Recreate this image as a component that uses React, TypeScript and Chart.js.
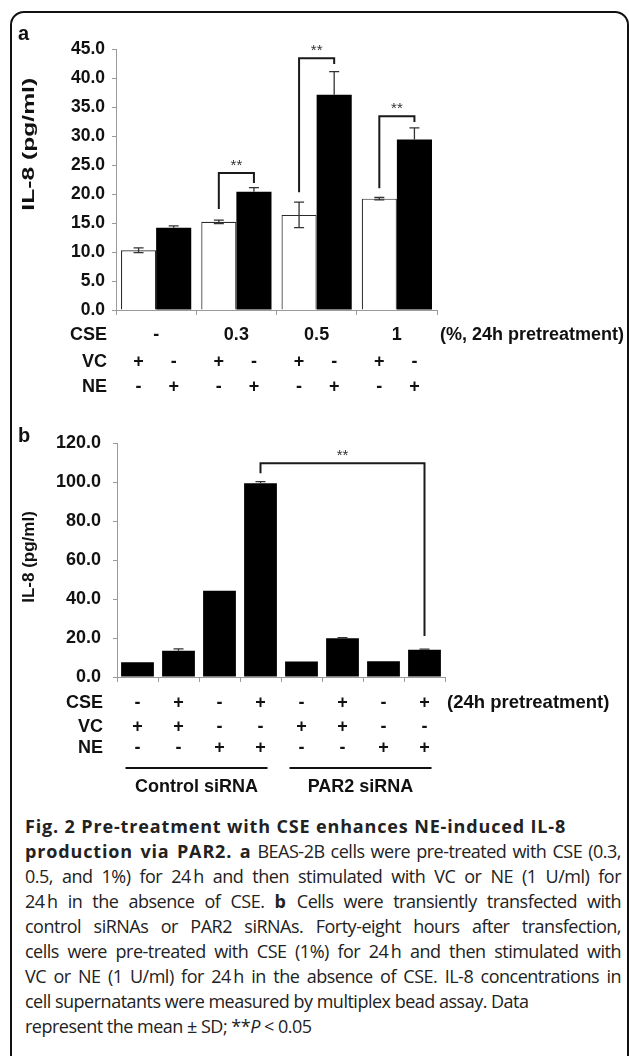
import React, { useEffect, useRef } from "react";
import { Chart, registerables } from "chart.js";
Chart.register(...registerables);

const FONT = "'Liberation Sans', Arial, Helvetica, sans-serif";

// ---------- Panel a data ----------
const cseLevelsA = ["-", "0.3", "0.5", "1"];
const cseSuffixA = "(%, 24h pretreatment)";
const vcRowA = ["+", "-", "+", "-", "+", "-", "+", "-"];
const neRowA = ["-", "+", "-", "+", "-", "+", "-", "+"];
const vcMeansA = [10.3, 15.2, 16.4, 19.2];
const vcSdA = [0.4, 0.3, 2.2, 0.2];
const neMeansA = [14.2, 20.4, 37.1, 29.4];
const neSdA = [0.3, 0.7, 4.0, 2.0];
const bracketCatA = [1, 2, 3];
const bracketTopA = [23.6, 43.4, 33.4];
const bracketLeftEndA = [17.4, 20.3, 21.0];
const bracketRightEndA = [21.9, 42.4, 32.4];

// ---------- Panel b data ----------
const categoriesB = ["1", "2", "3", "4", "5", "6", "7", "8"];
const cseRowB = ["-", "+", "-", "+", "-", "+", "-", "+"];
const cseSuffixB = "(24h pretreatment)";
const vcRowB = ["+", "+", "-", "-", "+", "+", "-", "-"];
const neRowB = ["-", "-", "+", "+", "-", "-", "+", "+"];
const meansB = [7.6, 13.5, 44.2, 99.4, 7.9, 19.9, 8.1, 14.0];
const sdB = [0, 0.9, 0, 0.8, 0, 0.3, 0, 0.3];
const groupNamesB = ["Control siRNA", "PAR2 siRNA"];
const groupRangesB = [[0, 3], [4, 7]];
const bracketB = [3, 7];
const bracketTopB = 109.6;
const bracketLeftEndB = 104.5;
const bracketRightEndB = 21.0;

const yTitle = "IL-8 (pg/ml)";
const sigMark = "**";

const captionLines: { t: string; b?: boolean; i?: boolean }[][] = [
  [{ t: "Fig. 2 Pre-treatment with CSE enhances NE-induced IL-8", b: true }],
  [{ t: "production via PAR2. a", b: true }, { t: " BEAS-2B cells were pre-treated with CSE (0.3," }],
  [{ t: "0.5, and 1%) for 24\u2009h and then stimulated with VC or NE (1 U/ml) for" }],
  [{ t: "24\u2009h in the absence of CSE. " }, { t: "b", b: true }, { t: " Cells were transiently transfected with" }],
  [{ t: "control siRNAs or PAR2 siRNAs. Forty-eight hours after transfection," }],
  [{ t: "cells were pre-treated with CSE (1%) for 24\u2009h and then stimulated with" }],
  [{ t: "VC or NE (1 U/ml) for 24\u2009h in the absence of CSE. IL-8 concentrations in" }],
  [{ t: "cell supernatants were measured by multiplex bead assay. Data" }],
  [{ t: "represent the mean \u00b1 SD; **" }, { t: "P", i: true }, { t: " < 0.05" }],
];
const justifiedLines = [false, true, true, true, true, true, true, false, false];

function drawErr(
  ctx: CanvasRenderingContext2D,
  x: number,
  yTop: number,
  yMid: number,
  yBot: number,
  cap: number,
  upperOnly: boolean
) {
  ctx.beginPath();
  ctx.moveTo(x, yTop);
  ctx.lineTo(x, upperOnly ? yMid : yBot);
  ctx.moveTo(x - cap / 2, yTop);
  ctx.lineTo(x + cap / 2, yTop);
  if (!upperOnly) {
    ctx.moveTo(x - cap / 2, yBot);
    ctx.lineTo(x + cap / 2, yBot);
  }
  ctx.stroke();
}

function drawTitle(ctx: CanvasRenderingContext2D, cx: number, cy: number, stretch: number) {
  ctx.save();
  ctx.translate(cx, cy);
  ctx.rotate(-Math.PI / 2);
  ctx.scale(stretch, 1);
  ctx.font = `bold 17px ${FONT}`;
  ctx.fillStyle = "#111";
  ctx.textAlign = "center";
  ctx.textBaseline = "middle";
  ctx.fillText(yTitle, 0, 0);
  ctx.restore();
}

const panelAPlugin = {
  id: "panelA",
  afterDatasetsDraw(chart: any) {
    const { ctx, scales } = chart;
    const y = scales.y;
    const m0 = chart.getDatasetMeta(0);
    const m1 = chart.getDatasetMeta(1);
    ctx.save();
    ctx.strokeStyle = "#333";
    ctx.lineWidth = 1.3;
    vcMeansA.forEach((v, i) =>
      drawErr(
        ctx,
        m0.data[i].x,
        y.getPixelForValue(v + vcSdA[i]),
        y.getPixelForValue(v),
        y.getPixelForValue(v - vcSdA[i]),
        10,
        false
      )
    );
    neMeansA.forEach((v, i) =>
      drawErr(
        ctx,
        m1.data[i].x,
        y.getPixelForValue(v + neSdA[i]),
        y.getPixelForValue(v),
        y.getPixelForValue(v - neSdA[i]),
        10,
        true
      )
    );
    ctx.strokeStyle = "#1a1a1a";
    ctx.lineWidth = 2;
    bracketCatA.forEach((c, k) => {
      const xl = m0.data[c].x;
      const xr = m1.data[c].x;
      const yt = y.getPixelForValue(bracketTopA[k]);
      ctx.beginPath();
      ctx.moveTo(xl, y.getPixelForValue(bracketLeftEndA[k]));
      ctx.lineTo(xl, yt);
      ctx.lineTo(xr, yt);
      ctx.lineTo(xr, y.getPixelForValue(bracketRightEndA[k]));
      ctx.stroke();
      ctx.fillStyle = "#333";
      ctx.font = `15px ${FONT}`;
      ctx.textAlign = "center";
      ctx.textBaseline = "alphabetic";
      ctx.fillText(sigMark, (xl + xr) / 2, yt - 3);
    });
    ctx.restore();
  },
  afterDraw(chart: any) {
    const { ctx, chartArea, scales } = chart;
    const x = scales.x;
    const m0 = chart.getDatasetMeta(0);
    const m1 = chart.getDatasetMeta(1);
    const b = chartArea.bottom;
    ctx.save();
    ctx.fillStyle = "#111";
    ctx.font = `bold 18px ${FONT}`;
    ctx.textBaseline = "middle";
    ctx.textAlign = "right";
    ctx.fillText("CSE", chartArea.left - 9, b + 25);
    ctx.fillText("VC", chartArea.left - 9, b + 52);
    ctx.fillText("NE", chartArea.left - 9, b + 77);
    ctx.textAlign = "center";
    cseLevelsA.forEach((t, i) => ctx.fillText(t, x.getPixelForValue(i), b + 25));
    cseLevelsA.forEach((_, i) => {
      ctx.fillText(vcRowA[2 * i], m0.data[i].x, b + 52);
      ctx.fillText(vcRowA[2 * i + 1], m1.data[i].x, b + 52);
      ctx.fillText(neRowA[2 * i], m0.data[i].x, b + 77);
      ctx.fillText(neRowA[2 * i + 1], m1.data[i].x, b + 77);
    });
    ctx.textAlign = "left";
    ctx.fillText(cseSuffixA, chartArea.right + 3, b + 25);
    ctx.font = `bold 20px ${FONT}`;
    ctx.textBaseline = "alphabetic";
    ctx.fillText("a", 18, 40);
    ctx.restore();
    drawTitle(ctx, 29, chartArea.top + 0.365 * (chartArea.bottom - chartArea.top), 1.45);
  },
};

const panelBPlugin = {
  id: "panelB",
  afterDatasetsDraw(chart: any) {
    const { ctx, scales } = chart;
    const y = scales.y;
    const m = chart.getDatasetMeta(0);
    ctx.save();
    ctx.strokeStyle = "#333";
    ctx.lineWidth = 1.3;
    meansB.forEach((v, i) => {
      if (sdB[i] > 0)
        drawErr(
          ctx,
          m.data[i].x,
          y.getPixelForValue(v + sdB[i]),
          y.getPixelForValue(v),
          y.getPixelForValue(v - sdB[i]),
          10,
          true
        );
    });
    ctx.strokeStyle = "#1a1a1a";
    ctx.lineWidth = 2;
    const xl = m.data[bracketB[0]].x;
    const xr = m.data[bracketB[1]].x;
    const yt = y.getPixelForValue(bracketTopB);
    ctx.beginPath();
    ctx.moveTo(xl, y.getPixelForValue(bracketLeftEndB));
    ctx.lineTo(xl, yt);
    ctx.lineTo(xr, yt);
    ctx.lineTo(xr, y.getPixelForValue(bracketRightEndB));
    ctx.stroke();
    ctx.fillStyle = "#333";
    ctx.font = `15px ${FONT}`;
    ctx.textAlign = "center";
    ctx.textBaseline = "alphabetic";
    ctx.fillText(sigMark, (xl + xr) / 2, yt - 3);
    ctx.restore();
  },
  afterDraw(chart: any) {
    const { ctx, chartArea } = chart;
    const m = chart.getDatasetMeta(0);
    const b = chartArea.bottom;
    ctx.save();
    ctx.fillStyle = "#111";
    ctx.font = `bold 18px ${FONT}`;
    ctx.textBaseline = "middle";
    ctx.textAlign = "right";
    ctx.fillText("CSE", chartArea.left - 14, b + 26);
    ctx.fillText("VC", chartArea.left - 14, b + 50);
    ctx.fillText("NE", chartArea.left - 14, b + 71);
    ctx.textAlign = "center";
    categoriesB.forEach((_, i) => {
      const px = m.data[i].x;
      ctx.fillText(cseRowB[i], px, b + 26);
      ctx.fillText(vcRowB[i], px, b + 50);
      ctx.fillText(neRowB[i], px, b + 71);
    });
    ctx.textAlign = "left";
    ctx.font = `bold 18.5px ${FONT}`;
    ctx.fillText(cseSuffixB, chartArea.right + 2, b + 26);
    ctx.font = `bold 18px ${FONT}`;
    ctx.strokeStyle = "#111";
    ctx.lineWidth = 2;
    groupRangesB.forEach(([s, e], k) => {
      const x1 = m.data[s].x - 12;
      const x2 = m.data[e].x + 7;
      ctx.beginPath();
      ctx.moveTo(x1, b + 91);
      ctx.lineTo(x2, b + 91);
      ctx.stroke();
      ctx.textAlign = "center";
      ctx.fillText(groupNamesB[k], (x1 + x2) / 2, b + 110);
    });
    ctx.font = `bold 20px ${FONT}`;
    ctx.textAlign = "left";
    ctx.textBaseline = "alphabetic";
    ctx.fillText("b", 18, 27);
    ctx.restore();
    drawTitle(ctx, 29, (chartArea.top + chartArea.bottom) / 2 - 3, 1.0);
  },
};

const axisGray = "#9a9a9a";

function yAxis(max: number, step: number, width: number, size: number, pad: number) {
  return {
    min: 0,
    max,
    ticks: {
      stepSize: step,
      callback: (v: any) => Number(v).toFixed(1),
      font: { family: FONT, size, weight: "bold" as const },
      color: "#111",
      padding: pad,
    },
    grid: { drawOnChartArea: false, drawTicks: true, tickLength: 4, color: axisGray },
    border: { color: axisGray, width: 1 },
    afterFit: (s: any) => {
      s.width = width;
    },
  };
}

function xAxis(height: number) {
  return {
    ticks: { display: false },
    grid: { drawOnChartArea: false, drawTicks: true, tickLength: 5, color: axisGray, offset: true },
    border: { color: axisGray, width: 1 },
    afterFit: (s: any) => {
      s.height = height;
    },
  };
}

export default function App() {
  const refA = useRef<HTMLCanvasElement>(null);
  const refB = useRef<HTMLCanvasElement>(null);

  useEffect(() => {
    const chartA = new Chart(refA.current as HTMLCanvasElement, {
      type: "bar",
      data: {
        labels: cseLevelsA,
        datasets: [
          {
            label: "VC",
            data: vcMeansA,
            backgroundColor: "#ffffff",
            borderColor: "#2a2a2a",
            borderWidth: 1.2,
            categoryPercentage: 0.875,
            barPercentage: 1.0,
          },
          {
            label: "NE",
            data: neMeansA,
            backgroundColor: "#000000",
            borderColor: "#000000",
            borderWidth: 0,
            categoryPercentage: 0.875,
            barPercentage: 1.0,
          },
        ],
      },
      options: {
        responsive: false,
        animation: false,
        devicePixelRatio: 1,
        layout: { padding: { left: 0, right: 192, top: 49, bottom: 0 } },
        plugins: { legend: { display: false }, tooltip: { enabled: false } },
        scales: { x: xAxis(105) as any, y: yAxis(45, 5, 116, 17.5, 7) as any },
      },
      plugins: [panelAPlugin],
    });

    const chartB = new Chart(refB.current as HTMLCanvasElement, {
      type: "bar",
      data: {
        labels: categoriesB,
        datasets: [
          {
            label: "IL-8",
            data: meansB,
            backgroundColor: "#000000",
            borderWidth: 0,
            categoryPercentage: 0.8,
            barPercentage: 1.0,
          },
        ],
      },
      options: {
        responsive: false,
        animation: false,
        devicePixelRatio: 1,
        layout: { padding: { left: 0, right: 184, top: 28, bottom: 0 } },
        plugins: { legend: { display: false }, tooltip: { enabled: false } },
        scales: { x: xAxis(133) as any, y: yAxis(120, 20, 117, 18, 12) as any },
      },
      plugins: [panelBPlugin],
    });

    return () => {
      chartA.destroy();
      chartB.destroy();
    };
  }, []);

  return (
    <div
      style={{
        position: "absolute",
        left: 0,
        top: 0,
        width: 629,
        height: 1056,
        background: "#fff",
        overflow: "hidden",
      }}
    >
      <div
        style={{
          position: "absolute",
          left: 10,
          top: 11,
          width: 619,
          height: 1070,
          boxSizing: "border-box",
          border: "2px solid #111",
          borderRadius: 14,
        }}
      />
      <canvas
        ref={refA}
        width={629}
        height={415}
        style={{ position: "absolute", left: 0, top: 0, width: 629, height: 415 }}
      />
      <canvas
        ref={refB}
        width={629}
        height={395}
        style={{ position: "absolute", left: 0, top: 415, width: 629, height: 395 }}
      />
      <div
        style={{
          position: "absolute",
          left: 25,
          top: 814,
          width: 596,
          fontFamily: "'Open Sans', 'Noto Sans', sans-serif",
          fontSize: 18,
          lineHeight: "25px",
          color: "#222",
        }}
      >
        {captionLines.map((line, i) => (
          <div
            key={i}
            style={{
              whiteSpace: "nowrap",
              textAlign: justifiedLines[i] ? "justify" : "left",
              textAlignLast: justifiedLines[i] ? "justify" : "left",
            }}
          >
            {line.map((seg, j) => (
              <span
                key={j}
                style={{
                  fontWeight: seg.b ? 700 : 400,
                  fontStyle: seg.i ? "italic" : "normal",
                  letterSpacing: seg.b ? "0.85px" : "-0.5px",
                }}
              >
                {seg.t}
              </span>
            ))}
          </div>
        ))}
      </div>
    </div>
  );
}
